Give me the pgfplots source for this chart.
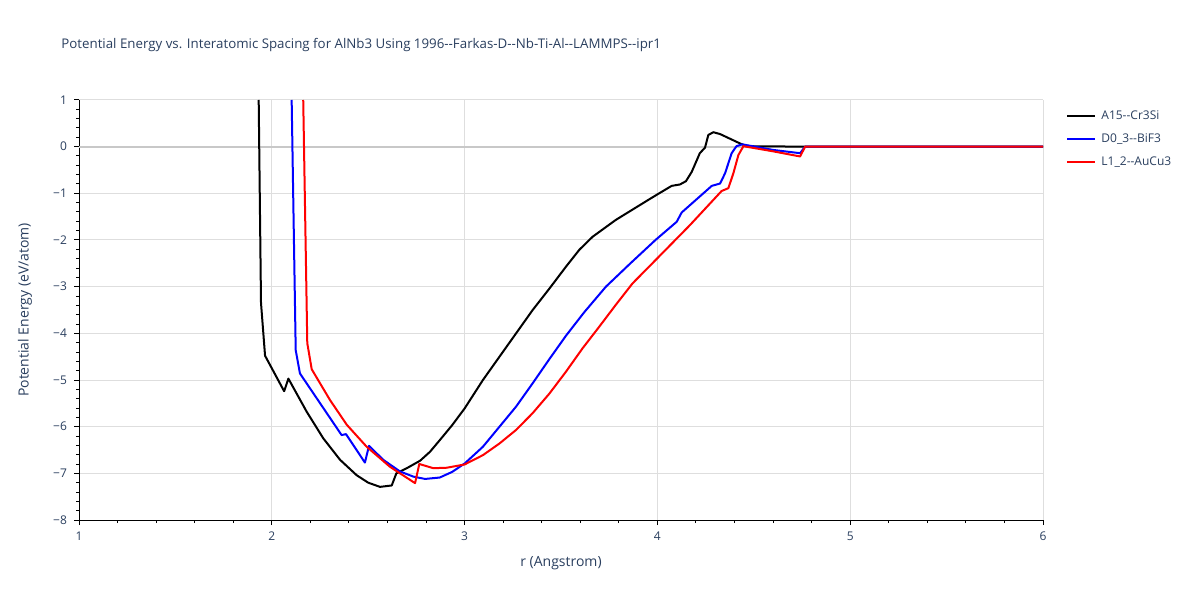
\documentclass[border=0pt]{standalone}
\usepackage{pgfplots}
\pgfplotsset{compat=1.18}
\usepackage{fontspec}
\setmainfont{Open Sans}
\definecolor{txt}{RGB}{42,63,95}
\definecolor{gridc}{RGB}{222,222,222}
\definecolor{zeroc}{RGB}{200,200,200}
\newcommand{\dd}{-\kern0pt-}

\begin{document}
\begin{tikzpicture}[x=1bp,y=1bp]
\useasboundingbox (0,0) rectangle (600,300);
\fill[white] (0,0) rectangle (600,300);

\node[anchor=west, font=\fontsize{6.65bp}{8bp}\selectfont, text=txt, inner sep=0pt]
  at (30.5,277.5) {Potential Energy vs. Interatomic Spacing for AlNb3 Using 1996\dd Farkas-D\dd Nb-Ti-Al\dd LAMMPS\dd ipr1};

\begin{axis}[
    at={(39.5bp,40bp)}, anchor=south west,
    width=482bp, height=210bp, scale only axis,
    xmin=1, xmax=6, ymin=-8, ymax=1,
    axis lines*=left,
    axis line style={-, black, line width=0.5bp},
    xtick={1,2,3,4,5,6},
    ytick={-8,-7,-6,-5,-4,-3,-2,-1,0,1},
    yticklabels={−8,−7,−6,−5,−4,−3,−2,−1,0,1},
    xticklabels={1,2,3,4,5,6},
    minor x tick num=4,
    minor y tick num=4,
    tick align=outside,
    major tick length=2.5bp,
    minor tick length=1.5bp,
    tick style={black, line width=0.5bp},
    tick label style={font=\fontsize{6bp}{7bp}\selectfont, text=txt},
    grid=major,
    major grid style={gridc, line width=0.5bp},
    xlabel={r (Angstrom)},
    ylabel={Potential Energy (eV/atom)},
    xlabel style={at={(axis description cs:0.5,0)}, anchor=center, yshift=-21.5bp,
      font=\fontsize{7bp}{8bp}\selectfont, text=txt},
    ylabel style={at={(axis description cs:-0.056,0.5)}, anchor=center,
      font=\fontsize{7bp}{8bp}\selectfont, text=txt},
    legend style={at={(1,1)}, anchor=north west, xshift=10.5bp, yshift=-2bp,
      draw=none, fill=none, inner sep=1bp, row sep=1.6bp,
      font=\fontsize{6bp}{7bp}\selectfont, text=txt,
      nodes={inner xsep=2.5bp}},
    legend cell align=left,
    legend image code/.code={\draw[#1] (0bp,0bp) -- (14bp,0bp);},
    every axis plot/.append style={line width=1bp, line join=round},
]
\addplot[zeroc, forget plot] coordinates {(1,0) (6,0)};

\addplot[black] coordinates {
(1.932,1.0) (1.944,-3.35) (1.965,-4.48) (2.064,-5.24) (2.086,-4.97)
(2.181,-5.68) (2.267,-6.25) (2.354,-6.71) (2.44,-7.04) (2.50,-7.2)
(2.561,-7.29) (2.622,-7.26) (2.646,-7.0) (2.70,-6.89) (2.769,-6.73)
(2.82,-6.54) (2.871,-6.29) (2.935,-5.97) (3.0,-5.61) (3.095,-5.0)
(3.181,-4.5) (3.267,-4.0) (3.353,-3.5) (3.44,-3.04) (3.526,-2.57)
(3.595,-2.21) (3.664,-1.93) (3.784,-1.57) (3.953,-1.14) (4.005,-1.01)
(4.074,-0.84) (4.117,-0.81) (4.148,-0.74) (4.178,-0.54) (4.22,-0.14)
(4.247,-0.02) (4.264,0.25) (4.29,0.31) (4.325,0.27) (4.428,0.07)
(4.463,0.01) (4.77,0.0) (6,0)
};
\addlegendentry{A15\dd Cr3Si}

\addplot[blue] coordinates {
(2.103,1.0) (2.124,-4.36) (2.146,-4.86) (2.362,-6.18) (2.385,-6.16)
(2.483,-6.77) (2.504,-6.41) (2.578,-6.71) (2.665,-6.96) (2.734,-7.07)
(2.795,-7.12) (2.871,-7.09) (2.935,-6.97) (3.0,-6.79) (3.095,-6.43)
(3.181,-6.0) (3.267,-5.57) (3.353,-5.07) (3.44,-4.55) (3.526,-4.05)
(3.62,-3.55) (3.733,-3.0) (3.86,-2.5) (3.99,-2.0)
(4.10,-1.61) (4.126,-1.41) (4.282,-0.84) (4.325,-0.79) (4.351,-0.57)
(4.385,-0.14) (4.41,0.01) (4.44,0.05) (4.6,-0.07) (4.74,-0.14)
(4.766,0.0) (6,0)
};
\addlegendentry{D0\_3\dd BiF3}

\addplot[red] coordinates {
(2.163,1.0) (2.184,-4.21) (2.207,-4.77) (2.302,-5.43) (2.389,-5.96)
(2.492,-6.43) (2.613,-6.86) (2.743,-7.21) (2.765,-6.80) (2.838,-6.89)
(2.907,-6.88) (3.0,-6.81) (3.095,-6.61) (3.181,-6.36) (3.267,-6.07)
(3.353,-5.71) (3.44,-5.29) (3.526,-4.82) (3.612,-4.32) (3.698,-3.86)
(3.784,-3.39) (3.871,-2.93) (4.0,-2.39) (4.169,-1.68) (4.333,-0.95)
(4.368,-0.89) (4.394,-0.57) (4.42,-0.18) (4.446,0.01) (4.6,-0.1)
(4.74,-0.21) (4.766,0.0) (6,0)
};
\addlegendentry{L1\_2\dd AuCu3}
\end{axis}
\end{tikzpicture}
\end{document}
